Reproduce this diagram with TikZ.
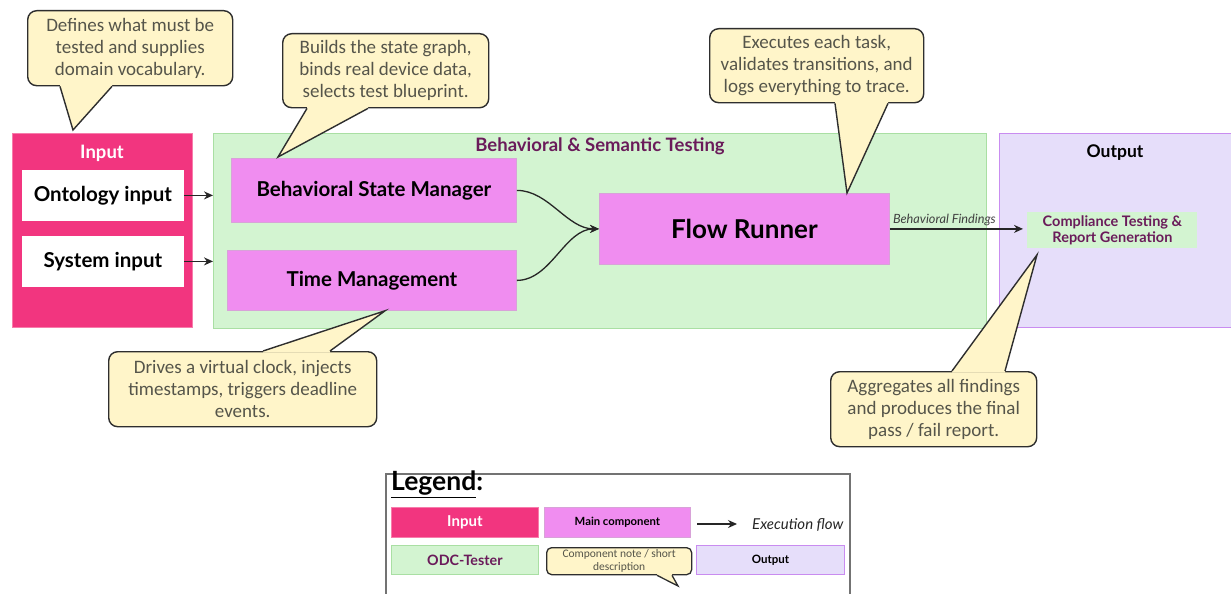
\documentclass[tikz,border=0pt]{standalone}
\usepackage{fontspec}
\setmainfont{Lato}
\newfontfamily\notefont{Carlito}
\usetikzlibrary{arrows.meta,calc}

\definecolor{inpink}{HTML}{F2357F}
\definecolor{inpinkedge}{HTML}{F77CAB}
\definecolor{mainviolet}{HTML}{F08DF0}
\definecolor{mainvioletedge}{HTML}{D8A2D8}
\definecolor{testgreen}{HTML}{D3F4D1}
\definecolor{testgreenedge}{HTML}{A9DFA3}
\definecolor{outlav}{HTML}{E6DEFA}
\definecolor{outlavedge}{HTML}{C98CF0}
\definecolor{plumtext}{HTML}{6A1B5A}
\definecolor{noteyellow}{HTML}{FFF5C9}
\definecolor{noteedge}{HTML}{2E2E2E}
\definecolor{notetext}{HTML}{55554A}

% tail of a note pointing down from its bottom edge
\newcommand\tailsouth[5][1.4pt]{%
  \fill[noteyellow] ($(#2.south west)+(#3,-1.6)$) -- ($(#2.south west)+(#3,0)$) -- (#5)
    -- ($(#2.south west)+(#4,0)$) -- ($(#2.south west)+(#4,-1.6)$) -- cycle;
  \draw[noteedge,line width=#1,line join=miter] ($(#2.south west)+(#3,0)$) -- (#5) -- ($(#2.south west)+(#4,0)$);}
% tail of a note pointing up from its top edge
\newcommand\tailnorth[5][1.4pt]{%
  \fill[noteyellow] ($(#2.north west)+(#3,1.6)$) -- ($(#2.north west)+(#3,0)$) -- (#5)
    -- ($(#2.north west)+(#4,0)$) -- ($(#2.north west)+(#4,1.6)$) -- cycle;
  \draw[noteedge,line width=#1,line join=miter] ($(#2.north west)+(#3,0)$) -- (#5) -- ($(#2.north west)+(#4,0)$);}

\begin{document}
\begin{tikzpicture}[x=1pt,y=-1pt,
  box/.style={inner sep=0,anchor=north west,line width=0.8pt},
  inbox/.style={box,fill=inpink,draw=inpinkedge},
  whitebox/.style={box,fill=white,draw=white,font=\bfseries\fontsize{20.5}{22}\selectfont},
  zonegreen/.style={box,fill=testgreen,draw=testgreenedge},
  zoneout/.style={box,fill=outlav,draw=outlavedge,line width=1.2pt},
  mainbox/.style={box,fill=mainviolet,draw=mainvioletedge,font=\bfseries\fontsize{20.5}{22}\selectfont},
  note/.style={inner sep=0,anchor=north west,draw=noteedge,fill=noteyellow,rounded corners=9pt,
    line width=1.4pt,align=center,text=notetext,font=\notefont\fontsize{19}{22}\selectfont},
  flow/.style={-{Stealth[length=9pt,width=8pt]},line width=1.5pt,draw=black!85},
  ztitle/.style={font=\bfseries\fontsize{18.5}{20}\selectfont,inner sep=0}
]
\useasboundingbox (0,0) rectangle (1231,594);
\fill[white] (0,0) rectangle (1231,594);

% ---- input column
\node[inbox,minimum width=180,minimum height=194] (input) at (12,133) {};
\node[ztitle,text=white] (inputtitle) at (102,153) {Input};
\node[whitebox,minimum width=161,minimum height=50] (onto) at (22,170) {Ontology input};
\node[whitebox,minimum width=161,minimum height=50] (sys) at (22,236) {System input};

% ---- testing zone
\node[zonegreen,minimum width=773,minimum height=195] (testing) at (213,133) {};
\node[ztitle,text=plumtext] (testtitle) at (600,146) {Behavioral \& Semantic Testing};
\node[mainbox,minimum width=285,minimum height=64] (bsm) at (231,158) {Behavioral State Manager};
\node[mainbox,minimum width=289,minimum height=60] (time) at (227,250) {Time Management};
\node[mainbox,minimum width=290,minimum height=71,font=\bfseries\fontsize{26}{28}\selectfont] (runner) at (599,193) {Flow Runner};

% ---- output zone
\node[zoneout,minimum width=233,minimum height=194] (output) at (999,133) {};
\node[ztitle,font=\bfseries\fontsize{17.5}{19}\selectfont] (outtitle) at (1115,153) {Output};
\node[box,fill=testgreen,minimum width=170,minimum height=36,align=center,text=plumtext,
  font=\bfseries\fontsize{14.5}{16.5}\selectfont] (comp) at (1027,212) {Compliance Testing \&\\Report Generation};

% ---- connectors
\draw[flow] (onto.east) -- (onto.east -| testing.west);
\draw[flow] (sys.east) -- (sys.east -| testing.west);
\draw[flow,line width=1.3pt] (bsm.east) to[out=0,in=180,looseness=0.9] (runner.west);
\draw[flow,line width=1.3pt] (time.east) to[out=0,in=180,looseness=0.9] (runner.west);
\draw[flow,line width=1.3pt] (runner.east) -- ($(runner.east -| comp.west)+(-4,0)$)
  node[pos=0.41,above=-0.5pt,font=\itshape\fontsize{12.7}{14}\selectfont,text=black!75] (findings) {Behavioral Findings};

% ---- notes
\node[note,minimum width=205,minimum height=75] (n1) at (27,10) {Defines what must be\\tested and supplies\\domain vocabulary.};
\coordinate (n1tip) at ($(input.north west)+(61,-3)$);
\tailsouth{n1}{33}{85}{n1tip}

\node[note,minimum width=206,minimum height=74] (n2) at (282,33) {Builds the state graph,\\binds real device data,\\selects test blueprint.};
\coordinate (n2tip) at ($(bsm.north west)+(47,-1)$);
\tailsouth{n2}{25}{86}{n2tip}

\node[note,minimum width=214,minimum height=74] (n3) at (709,28) {Executes each task,\\validates transitions, and\\logs everything to trace.};
\coordinate (n3tip) at ($(runner.north west)+(248,0)$);
\tailsouth{n3}{126}{179}{n3tip}

\node[note,minimum width=268,minimum height=75] (n4) at (108,351) {Drives a virtual clock, injects\\timestamps, triggers deadline\\events.};
\coordinate (n4tip) at ($(time.south west)+(158,0)$);
\tailnorth{n4}{155}{222}{n4tip}

\node[note,minimum width=206,minimum height=75] (n5) at (830,371) {Aggregates all findings\\and produces the final\\pass / fail report.};
\coordinate (n5tip) at ($(comp.south west)+(10,6)$);
\tailnorth{n5}{122}{175}{n5tip}

% ---- legend
\draw[black!55,line width=1.2pt] (386,474) rectangle (850,610);
\node[inner sep=0,anchor=north west,font=\bfseries\fontsize{26.5}{28}\selectfont] (legtitle) at (391,471) {\underline{Legend}:};
\node[inbox,minimum width=147,minimum height=30,text=white,font=\bfseries\fontsize{15}{17}\selectfont] (leginput) at (391,507) {Input};
\node[mainbox,minimum width=146,minimum height=30,font=\bfseries\fontsize{11.3}{13}\selectfont] (legmain) at (544,507) {Main component};
\node[inner sep=0,anchor=west,font=\itshape\fontsize{15}{17}\selectfont,text=black!85] (legflow) at (752,525) {Execution flow};
\coordinate (legfrom) at (697,524);
\draw[flow,line width=1.4pt] (legfrom) -- ($(legflow.west)+(-15,-1)$);
\node[zonegreen,minimum width=147,minimum height=29,text=plumtext,font=\bfseries\fontsize{14.3}{16}\selectfont] (legtest) at (391,545) {ODC-Tester};
\node[note,minimum width=145,minimum height=27,rounded corners=5pt,line width=1.3pt,
  font=\notefont\fontsize{11.5}{12.5}\selectfont] (legnote) at (546,547) {Component note / short\\description};
\coordinate (legnotetip) at (678,586);
\tailsouth[1.3pt]{legnote}{111}{126}{legnotetip}
\node[zoneout,minimum width=148,minimum height=29,font=\bfseries\fontsize{11.5}{13}\selectfont] (legout) at (696,545) {Output};
\end{tikzpicture}
\end{document}
